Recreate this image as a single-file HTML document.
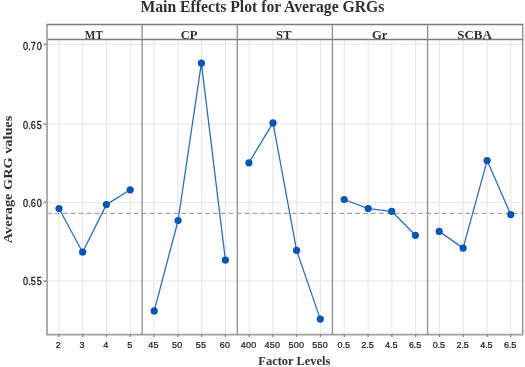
<!DOCTYPE html><html><head><meta charset="utf-8"><style>html,body{margin:0;padding:0;background:#fff;}svg{display:block;will-change:transform;filter:blur(0.28px)}</style></head><body>
<svg width="525" height="367" viewBox="0 0 525 367">
<rect width="525" height="367" fill="#fff"/>
<path d="M58.89 39.6V334.3M82.68 39.6V334.3M106.46 39.6V334.3M130.25 39.6V334.3M154.03 39.6V334.3M177.82 39.6V334.3M201.60 39.6V334.3M225.39 39.6V334.3M249.17 39.6V334.3M272.96 39.6V334.3M296.74 39.6V334.3M320.53 39.6V334.3M344.31 39.6V334.3M368.10 39.6V334.3M391.88 39.6V334.3M415.67 39.6V334.3M439.45 39.6V334.3M463.24 39.6V334.3M487.02 39.6V334.3M510.81 39.6V334.3M47.0 44.3H522.7M47.0 124.0H522.7M47.0 202.3H522.7M47.0 281.0H522.7" stroke="#e6e6e6" stroke-width="1.1" fill="none"/>
<path d="M47.0 213.35H522.7" stroke="#a4a4a4" stroke-width="1.25" stroke-dasharray="4.8 3.1" fill="none"/>
<path d="M46.2 24.6H523.4000000000001M46.2 39.6H523.4000000000001" stroke="#7c7c7c" stroke-width="1.5" fill="none"/>
<path d="M47.05 24.6V334.3" stroke="#a6a6a6" stroke-width="1.8" fill="none"/>
<path d="M46.1 334.6H523.4000000000001" stroke="#a0a0a0" stroke-width="1.6" fill="none"/>
<path d="M142.14 24.6V334.6M237.28 24.6V334.6M332.42 24.6V334.6M427.56 24.6V334.6M522.70 24.6V334.6" stroke="#8c8c8c" stroke-width="1.3" fill="none"/>
<path d="M43.4 44.4H47.0M43.4 124.1H47.0M43.4 202.4H47.0M43.4 281.1H47.0" stroke="#9a9a9a" stroke-width="1.6" fill="none"/>
<path d="M58.89 334.6V336.90000000000003M82.68 334.6V336.90000000000003M106.46 334.6V336.90000000000003M130.25 334.6V336.90000000000003M154.03 334.6V336.90000000000003M177.82 334.6V336.90000000000003M201.60 334.6V336.90000000000003M225.39 334.6V336.90000000000003M249.17 334.6V336.90000000000003M272.96 334.6V336.90000000000003M296.74 334.6V336.90000000000003M320.53 334.6V336.90000000000003M344.31 334.6V336.90000000000003M368.10 334.6V336.90000000000003M391.88 334.6V336.90000000000003M415.67 334.6V336.90000000000003M439.45 334.6V336.90000000000003M463.24 334.6V336.90000000000003M487.02 334.6V336.90000000000003M510.81 334.6V336.90000000000003" stroke="#8a8a8a" stroke-width="1.3" fill="none"/>
<path d="M59 208.50L82.6 252.20L106.4 204.60L130.2 189.80" stroke="#2a6fc4" stroke-width="1.3" fill="none" stroke-linejoin="round"/>
<circle cx="59" cy="208.50" r="3.6" fill="#0a55b4"/>
<circle cx="82.6" cy="252.20" r="3.6" fill="#0a55b4"/>
<circle cx="106.4" cy="204.60" r="3.6" fill="#0a55b4"/>
<circle cx="130.2" cy="189.80" r="3.6" fill="#0a55b4"/>
<path d="M154.2 310.90L178.1 220.50L201.4 63.20L225.4 260.10" stroke="#2a6fc4" stroke-width="1.3" fill="none" stroke-linejoin="round"/>
<circle cx="154.2" cy="310.90" r="3.6" fill="#0a55b4"/>
<circle cx="178.1" cy="220.50" r="3.6" fill="#0a55b4"/>
<circle cx="201.4" cy="63.20" r="3.6" fill="#0a55b4"/>
<circle cx="225.4" cy="260.10" r="3.6" fill="#0a55b4"/>
<path d="M248.9 162.80L273 122.90L296.6 250.40L320.3 319.10" stroke="#2a6fc4" stroke-width="1.3" fill="none" stroke-linejoin="round"/>
<circle cx="248.9" cy="162.80" r="3.6" fill="#0a55b4"/>
<circle cx="273" cy="122.90" r="3.6" fill="#0a55b4"/>
<circle cx="296.6" cy="250.40" r="3.6" fill="#0a55b4"/>
<circle cx="320.3" cy="319.10" r="3.6" fill="#0a55b4"/>
<path d="M344.2 199.50L368.2 208.60L391.7 211.30L415.4 235.30" stroke="#2a6fc4" stroke-width="1.3" fill="none" stroke-linejoin="round"/>
<circle cx="344.2" cy="199.50" r="3.6" fill="#0a55b4"/>
<circle cx="368.2" cy="208.60" r="3.6" fill="#0a55b4"/>
<circle cx="391.7" cy="211.30" r="3.6" fill="#0a55b4"/>
<circle cx="415.4" cy="235.30" r="3.6" fill="#0a55b4"/>
<path d="M439.2 231.40L463.1 248.10L487.1 160.60L510.8 214.60" stroke="#2a6fc4" stroke-width="1.3" fill="none" stroke-linejoin="round"/>
<circle cx="439.2" cy="231.40" r="3.6" fill="#0a55b4"/>
<circle cx="463.1" cy="248.10" r="3.6" fill="#0a55b4"/>
<circle cx="487.1" cy="160.60" r="3.6" fill="#0a55b4"/>
<circle cx="510.8" cy="214.60" r="3.6" fill="#0a55b4"/>
<text transform="translate(22.91 49.6) scale(0.88 1)" font-family="Liberation Sans" font-size="10.4" fill="#1a1a1a" stroke="#1a1a1a" stroke-width="0.32">0</text><text transform="translate(28.13 49.6) scale(0.88 1)" font-family="Liberation Sans" font-size="10.4" fill="#1a1a1a" stroke="#1a1a1a" stroke-width="0.32">.</text><text transform="translate(30.81 49.6) scale(0.88 1)" font-family="Liberation Sans" font-size="10.4" fill="#1a1a1a" stroke="#1a1a1a" stroke-width="0.32">7</text><text transform="translate(36.71 49.6) scale(0.88 1)" font-family="Liberation Sans" font-size="10.4" fill="#1a1a1a" stroke="#1a1a1a" stroke-width="0.32">0</text>
<text transform="translate(22.91 128.6) scale(0.88 1)" font-family="Liberation Sans" font-size="10.4" fill="#1a1a1a" stroke="#1a1a1a" stroke-width="0.32">0</text><text transform="translate(28.13 128.6) scale(0.88 1)" font-family="Liberation Sans" font-size="10.4" fill="#1a1a1a" stroke="#1a1a1a" stroke-width="0.32">.</text><text transform="translate(30.81 128.6) scale(0.88 1)" font-family="Liberation Sans" font-size="10.4" fill="#1a1a1a" stroke="#1a1a1a" stroke-width="0.32">6</text><text transform="translate(36.71 128.6) scale(0.88 1)" font-family="Liberation Sans" font-size="10.4" fill="#1a1a1a" stroke="#1a1a1a" stroke-width="0.32">5</text>
<text transform="translate(22.91 206.6) scale(0.88 1)" font-family="Liberation Sans" font-size="10.4" fill="#1a1a1a" stroke="#1a1a1a" stroke-width="0.32">0</text><text transform="translate(28.13 206.6) scale(0.88 1)" font-family="Liberation Sans" font-size="10.4" fill="#1a1a1a" stroke="#1a1a1a" stroke-width="0.32">.</text><text transform="translate(30.81 206.6) scale(0.88 1)" font-family="Liberation Sans" font-size="10.4" fill="#1a1a1a" stroke="#1a1a1a" stroke-width="0.32">6</text><text transform="translate(36.71 206.6) scale(0.88 1)" font-family="Liberation Sans" font-size="10.4" fill="#1a1a1a" stroke="#1a1a1a" stroke-width="0.32">0</text>
<text transform="translate(22.91 284.6) scale(0.88 1)" font-family="Liberation Sans" font-size="10.4" fill="#1a1a1a" stroke="#1a1a1a" stroke-width="0.32">0</text><text transform="translate(28.13 284.6) scale(0.88 1)" font-family="Liberation Sans" font-size="10.4" fill="#1a1a1a" stroke="#1a1a1a" stroke-width="0.32">.</text><text transform="translate(30.81 284.6) scale(0.88 1)" font-family="Liberation Sans" font-size="10.4" fill="#1a1a1a" stroke="#1a1a1a" stroke-width="0.32">5</text><text transform="translate(36.71 284.6) scale(0.88 1)" font-family="Liberation Sans" font-size="10.4" fill="#1a1a1a" stroke="#1a1a1a" stroke-width="0.32">5</text>
<text transform="translate(55.78 348.0) scale(0.94 1)" font-family="Liberation Sans" font-size="9.6" fill="#1a1a1a" stroke="#1a1a1a" stroke-width="0.25">2</text>
<text transform="translate(79.57 348.0) scale(0.94 1)" font-family="Liberation Sans" font-size="9.6" fill="#1a1a1a" stroke="#1a1a1a" stroke-width="0.25">3</text>
<text transform="translate(103.35 348.0) scale(0.94 1)" font-family="Liberation Sans" font-size="9.6" fill="#1a1a1a" stroke="#1a1a1a" stroke-width="0.25">4</text>
<text transform="translate(127.14 348.0) scale(0.94 1)" font-family="Liberation Sans" font-size="9.6" fill="#1a1a1a" stroke="#1a1a1a" stroke-width="0.25">5</text>
<text transform="translate(148.30 348.0) scale(0.94 1)" font-family="Liberation Sans" font-size="9.6" fill="#1a1a1a" stroke="#1a1a1a" stroke-width="0.25">4</text><text transform="translate(153.55 348.0) scale(0.94 1)" font-family="Liberation Sans" font-size="9.6" fill="#1a1a1a" stroke="#1a1a1a" stroke-width="0.25">5</text>
<text transform="translate(172.08 348.0) scale(0.94 1)" font-family="Liberation Sans" font-size="9.6" fill="#1a1a1a" stroke="#1a1a1a" stroke-width="0.25">5</text><text transform="translate(177.33 348.0) scale(0.94 1)" font-family="Liberation Sans" font-size="9.6" fill="#1a1a1a" stroke="#1a1a1a" stroke-width="0.25">0</text>
<text transform="translate(195.87 348.0) scale(0.94 1)" font-family="Liberation Sans" font-size="9.6" fill="#1a1a1a" stroke="#1a1a1a" stroke-width="0.25">5</text><text transform="translate(201.12 348.0) scale(0.94 1)" font-family="Liberation Sans" font-size="9.6" fill="#1a1a1a" stroke="#1a1a1a" stroke-width="0.25">5</text>
<text transform="translate(219.65 348.0) scale(0.94 1)" font-family="Liberation Sans" font-size="9.6" fill="#1a1a1a" stroke="#1a1a1a" stroke-width="0.25">6</text><text transform="translate(224.90 348.0) scale(0.94 1)" font-family="Liberation Sans" font-size="9.6" fill="#1a1a1a" stroke="#1a1a1a" stroke-width="0.25">0</text>
<text transform="translate(240.81 348.0) scale(0.94 1)" font-family="Liberation Sans" font-size="9.6" fill="#1a1a1a" stroke="#1a1a1a" stroke-width="0.25">4</text><text transform="translate(246.06 348.0) scale(0.94 1)" font-family="Liberation Sans" font-size="9.6" fill="#1a1a1a" stroke="#1a1a1a" stroke-width="0.25">0</text><text transform="translate(251.31 348.0) scale(0.94 1)" font-family="Liberation Sans" font-size="9.6" fill="#1a1a1a" stroke="#1a1a1a" stroke-width="0.25">0</text>
<text transform="translate(264.60 348.0) scale(0.94 1)" font-family="Liberation Sans" font-size="9.6" fill="#1a1a1a" stroke="#1a1a1a" stroke-width="0.25">4</text><text transform="translate(269.85 348.0) scale(0.94 1)" font-family="Liberation Sans" font-size="9.6" fill="#1a1a1a" stroke="#1a1a1a" stroke-width="0.25">5</text><text transform="translate(275.10 348.0) scale(0.94 1)" font-family="Liberation Sans" font-size="9.6" fill="#1a1a1a" stroke="#1a1a1a" stroke-width="0.25">0</text>
<text transform="translate(288.38 348.0) scale(0.94 1)" font-family="Liberation Sans" font-size="9.6" fill="#1a1a1a" stroke="#1a1a1a" stroke-width="0.25">5</text><text transform="translate(293.63 348.0) scale(0.94 1)" font-family="Liberation Sans" font-size="9.6" fill="#1a1a1a" stroke="#1a1a1a" stroke-width="0.25">0</text><text transform="translate(298.88 348.0) scale(0.94 1)" font-family="Liberation Sans" font-size="9.6" fill="#1a1a1a" stroke="#1a1a1a" stroke-width="0.25">0</text>
<text transform="translate(312.17 348.0) scale(0.94 1)" font-family="Liberation Sans" font-size="9.6" fill="#1a1a1a" stroke="#1a1a1a" stroke-width="0.25">5</text><text transform="translate(317.42 348.0) scale(0.94 1)" font-family="Liberation Sans" font-size="9.6" fill="#1a1a1a" stroke="#1a1a1a" stroke-width="0.25">5</text><text transform="translate(322.67 348.0) scale(0.94 1)" font-family="Liberation Sans" font-size="9.6" fill="#1a1a1a" stroke="#1a1a1a" stroke-width="0.25">0</text>
<text transform="translate(337.53 348.0) scale(0.94 1)" font-family="Liberation Sans" font-size="9.6" fill="#1a1a1a" stroke="#1a1a1a" stroke-width="0.25">0</text><text transform="translate(342.46 348.0) scale(0.94 1)" font-family="Liberation Sans" font-size="9.6" fill="#1a1a1a" stroke="#1a1a1a" stroke-width="0.25">.</text><text transform="translate(344.88 348.0) scale(0.94 1)" font-family="Liberation Sans" font-size="9.6" fill="#1a1a1a" stroke="#1a1a1a" stroke-width="0.25">5</text>
<text transform="translate(361.31 348.0) scale(0.94 1)" font-family="Liberation Sans" font-size="9.6" fill="#1a1a1a" stroke="#1a1a1a" stroke-width="0.25">2</text><text transform="translate(366.24 348.0) scale(0.94 1)" font-family="Liberation Sans" font-size="9.6" fill="#1a1a1a" stroke="#1a1a1a" stroke-width="0.25">.</text><text transform="translate(368.66 348.0) scale(0.94 1)" font-family="Liberation Sans" font-size="9.6" fill="#1a1a1a" stroke="#1a1a1a" stroke-width="0.25">5</text>
<text transform="translate(385.10 348.0) scale(0.94 1)" font-family="Liberation Sans" font-size="9.6" fill="#1a1a1a" stroke="#1a1a1a" stroke-width="0.25">4</text><text transform="translate(390.03 348.0) scale(0.94 1)" font-family="Liberation Sans" font-size="9.6" fill="#1a1a1a" stroke="#1a1a1a" stroke-width="0.25">.</text><text transform="translate(392.45 348.0) scale(0.94 1)" font-family="Liberation Sans" font-size="9.6" fill="#1a1a1a" stroke="#1a1a1a" stroke-width="0.25">5</text>
<text transform="translate(408.88 348.0) scale(0.94 1)" font-family="Liberation Sans" font-size="9.6" fill="#1a1a1a" stroke="#1a1a1a" stroke-width="0.25">6</text><text transform="translate(413.81 348.0) scale(0.94 1)" font-family="Liberation Sans" font-size="9.6" fill="#1a1a1a" stroke="#1a1a1a" stroke-width="0.25">.</text><text transform="translate(416.23 348.0) scale(0.94 1)" font-family="Liberation Sans" font-size="9.6" fill="#1a1a1a" stroke="#1a1a1a" stroke-width="0.25">5</text>
<text transform="translate(432.67 348.0) scale(0.94 1)" font-family="Liberation Sans" font-size="9.6" fill="#1a1a1a" stroke="#1a1a1a" stroke-width="0.25">0</text><text transform="translate(437.60 348.0) scale(0.94 1)" font-family="Liberation Sans" font-size="9.6" fill="#1a1a1a" stroke="#1a1a1a" stroke-width="0.25">.</text><text transform="translate(440.02 348.0) scale(0.94 1)" font-family="Liberation Sans" font-size="9.6" fill="#1a1a1a" stroke="#1a1a1a" stroke-width="0.25">5</text>
<text transform="translate(456.45 348.0) scale(0.94 1)" font-family="Liberation Sans" font-size="9.6" fill="#1a1a1a" stroke="#1a1a1a" stroke-width="0.25">2</text><text transform="translate(461.38 348.0) scale(0.94 1)" font-family="Liberation Sans" font-size="9.6" fill="#1a1a1a" stroke="#1a1a1a" stroke-width="0.25">.</text><text transform="translate(463.80 348.0) scale(0.94 1)" font-family="Liberation Sans" font-size="9.6" fill="#1a1a1a" stroke="#1a1a1a" stroke-width="0.25">5</text>
<text transform="translate(480.24 348.0) scale(0.94 1)" font-family="Liberation Sans" font-size="9.6" fill="#1a1a1a" stroke="#1a1a1a" stroke-width="0.25">4</text><text transform="translate(485.17 348.0) scale(0.94 1)" font-family="Liberation Sans" font-size="9.6" fill="#1a1a1a" stroke="#1a1a1a" stroke-width="0.25">.</text><text transform="translate(487.59 348.0) scale(0.94 1)" font-family="Liberation Sans" font-size="9.6" fill="#1a1a1a" stroke="#1a1a1a" stroke-width="0.25">5</text>
<text transform="translate(504.02 348.0) scale(0.94 1)" font-family="Liberation Sans" font-size="9.6" fill="#1a1a1a" stroke="#1a1a1a" stroke-width="0.25">6</text><text transform="translate(508.95 348.0) scale(0.94 1)" font-family="Liberation Sans" font-size="9.6" fill="#1a1a1a" stroke="#1a1a1a" stroke-width="0.25">.</text><text transform="translate(511.37 348.0) scale(0.94 1)" font-family="Liberation Sans" font-size="9.6" fill="#1a1a1a" stroke="#1a1a1a" stroke-width="0.25">5</text>
<text transform="translate(84.87 39.0) scale(0.8407 1)" font-family="Liberation Serif" font-weight="bold" font-size="13.4" fill="#303030">MT</text>
<text transform="translate(180.78 39.0) scale(0.9313 1)" font-family="Liberation Serif" font-weight="bold" font-size="13.4" fill="#303030">CP</text>
<text transform="translate(275.96 39.0) scale(0.9521 1)" font-family="Liberation Serif" font-weight="bold" font-size="13.4" fill="#303030">ST</text>
<text transform="translate(372.07 39.0) scale(0.9409 1)" font-family="Liberation Serif" font-weight="bold" font-size="13.4" fill="#303030">Gr</text>
<text transform="translate(457.25 39.0) scale(0.9693 1)" font-family="Liberation Serif" font-weight="bold" font-size="13.4" fill="#303030">SCBA</text>
<text transform="translate(140.39 12.2) scale(0.9634 1)" font-family="Liberation Serif" font-weight="bold" font-size="16.3" fill="#303030">Main Effects Plot for Average GRGs</text>
<text transform="translate(258.35 364.9) scale(0.9495 1)" font-family="Liberation Serif" font-weight="bold" font-size="13.1" fill="#303030">Factor Levels</text>
<text transform="translate(12.4 243.24) rotate(-90)" x="0" y="0" textLength="127.49" lengthAdjust="spacingAndGlyphs" font-family="Liberation Serif" font-weight="bold" font-size="13.3" fill="#303030">Average GRG values</text>
</svg></body></html>
